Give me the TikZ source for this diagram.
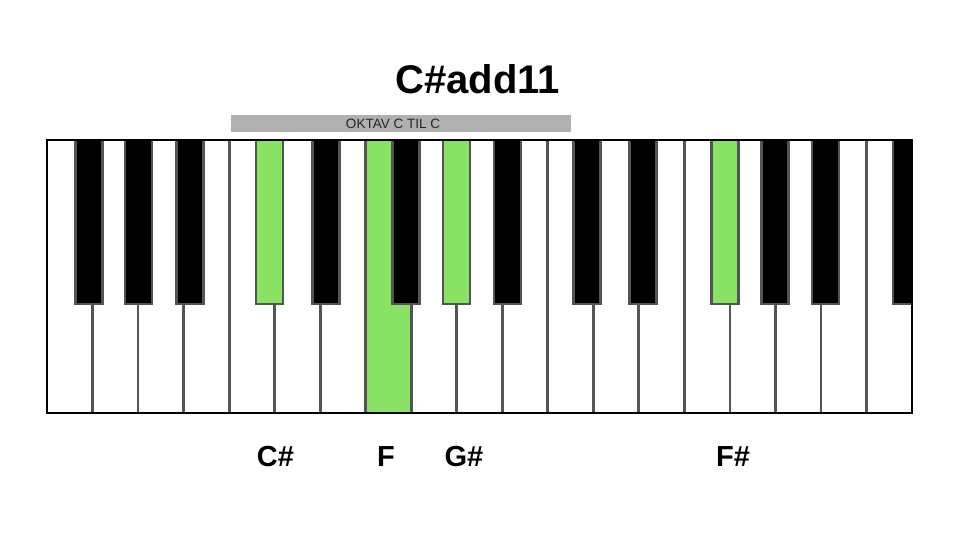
\documentclass[tikz,border=0pt]{standalone}
\usepackage{fontspec}
\setmainfont{Liberation Sans}
\usepackage{tikz}
\definecolor{keygreen}{HTML}{88E264}
\definecolor{keyedge}{HTML}{555555}
\definecolor{bargray}{HTML}{B0B0B0}

\begin{document}
\begin{tikzpicture}[x=1pt,y=-1pt]
\useasboundingbox (0,0) rectangle (960,540);
%%%%% Title %%%%%
\node[font=\bfseries\fontsize{40}{48}\selectfont, anchor=base, inner sep=0pt] (title) at (477.5,94) {C\#add11};
%%%%% Octave bar %%%%%
\fill[bargray] (231,115) rectangle (571,132);
\node[font=\fontsize{13.5}{16}\selectfont, anchor=base, inner sep=0pt, color=black!85] (oktav) at (393,129) {OKTAV C TIL C};
%%%%% White keys %%%%%
\foreach \i in {0,...,18}{
\draw[keyedge, line width=2.8pt, fill=white] ({47+\i*45.526},140) rectangle ({47+(\i+1)*45.526},413);
}
\draw[keyedge, line width=2.8pt, fill=keygreen] ({47+7*45.526},140) rectangle ({47+8*45.526},413);
%%%%% Black keys %%%%%
\foreach \c/\col in {89/black,138.5/black,190/black,269.5/keygreen,326/black,406/black,456.5/keygreen,507.5/black,587/black,643/black,725/keygreen,775/black,825.5/black}{
\draw[keyedge, line width=2.8pt, fill=\col] (\c-13.5,140) rectangle (\c+13.5,304);
}
\draw[keyedge, line width=2.8pt, fill=black] (893,140) rectangle (912,304);
% frame
\draw[black, line width=1.5pt] (47,140) rectangle (912,413);
%%%%% Note names %%%%%
\node[font=\bfseries\fontsize{29}{34}\selectfont, anchor=base, inner sep=0pt] (noteCs) at (275.5,466) {C\#};
\node[font=\bfseries\fontsize{29}{34}\selectfont, anchor=base, inner sep=0pt] (noteF) at (386,466) {F};
\node[font=\bfseries\fontsize{29}{34}\selectfont, anchor=base, inner sep=0pt] (noteGs) at (464,466) {G\#};
\node[font=\bfseries\fontsize{29}{34}\selectfont, anchor=base, inner sep=0pt] (noteFs) at (733,466) {F\#};
\end{tikzpicture}
\end{document}
